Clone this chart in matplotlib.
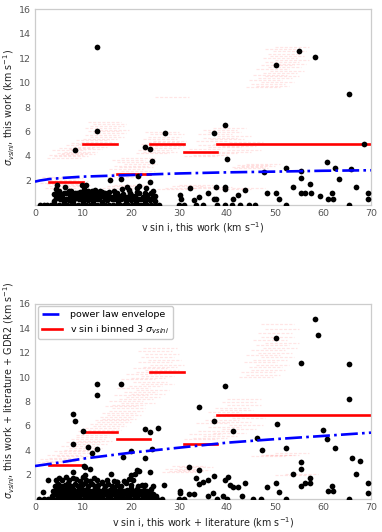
# === DECLARE IMPORTS ===

import matplotlib

matplotlib.use("Agg")
import matplotlib.pyplot as plt

# === DEFINE DATA ===

X_TICKS = [0, 10, 20, 30, 40, 50, 60, 70]
Y_TICKS = [2, 4, 6, 8, 10, 12, 14, 16]

# --- top panel: this work ---
TOP_VSINI = [
    # sigma = 0 row
    1.0, 1.8, 2.6, 3.4, 4.2, 5.0, 5.8, 6.6, 7.4, 8.2, 9.0, 9.8, 10.6, 11.4, 12.2, 13.0,
    13.8, 14.6, 15.4, 16.2, 17.0, 17.8, 18.6, 19.4, 20.2, 21.0, 21.8, 22.6, 23.4, 24.2,
    25.0, 25.8, 30.0, 31.0, 33.5, 35.0, 38.0, 39.5, 41.0, 42.8, 44.5, 45.8, 52.3, 65.4,
    # low rows
    4.0, 5.2, 6.0, 7.0, 8.0, 9.1, 10.0, 11.0, 12.0, 13.2, 14.0, 15.0, 16.0, 17.2, 18.0,
    19.0, 20.0, 21.0, 22.0, 23.0, 24.0, 25.0, 30.5, 33.1, 37.2, 37.8, 41.3, 61.0, 62.0,
    50.8, 69.4,
    4.4, 5.6, 6.5, 7.5, 8.5, 9.5, 10.5, 11.5, 12.6, 13.6, 14.5, 15.5, 16.5, 17.6, 18.5,
    19.5, 20.5, 21.5, 22.5, 23.5, 24.5,
    4.0, 4.6, 5.5, 6.4, 7.2, 8.0, 9.0, 9.8, 10.6, 11.5, 12.3, 13.2, 14.1, 15.0, 15.8,
    16.6, 17.5, 18.3, 19.2, 20.0, 20.8, 21.7, 22.5, 23.4, 24.2, 25.0, 30.2, 34.2, 36.1,
    42.2, 48.3, 50.2, 55.4, 56.3, 57.5, 59.4, 61.8, 69.4,
    4.8, 6.0, 7.0, 8.4, 9.4, 10.2, 11.0, 12.0, 13.0, 14.6, 15.5, 17.0, 19.8, 21.2, 23.0,
    4.5, 4.3, 6.3, 5.0, 7.6, 9.7, 10.2, 10.6, 11.8, 12.5, 14.0, 16.5, 18.2, 19.1, 19.6,
    21.2, 21.7, 23.2, 24.5, 8.8, 13.5,
    15.7, 17.9, 21.4, 23.9, 32.2, 37.8, 39.5, 39.6, 43.75, 53.8, 57.3, 66.9,
    # scattered upper points
    12.85, 8.3, 12.85, 22.9, 24.0, 24.4, 27.0, 37.2, 39.65, 40.1, 50.2, 55.1, 58.4,
    65.4, 68.5, 47.8, 52.3, 55.4, 55.4, 60.8, 62.5, 63.4, 65.9,
]
TOP_SIGMA = [
    0, 0, 0, 0, 0, 0, 0, 0, 0, 0, 0, 0, 0, 0, 0, 0,
    0, 0, 0, 0, 0, 0, 0, 0, 0, 0, 0, 0, 0, 0,
    0, 0, 0, 0, 0, 0, 0, 0, 0, 0, 0, 0, 0, 0,
    0.30, 0.45, 0.25, 0.40, 0.30, 0.45, 0.25, 0.40, 0.30, 0.45, 0.25, 0.35, 0.45, 0.30, 0.45,
    0.30, 0.40, 0.25, 0.45, 0.30, 0.40, 0.30, 0.44, 0.38, 0.44, 0.44, 0.44, 0.44, 0.44,
    0.44, 0.44,
    0.55, 0.60, 0.50, 0.60, 0.55, 0.60, 0.55, 0.60, 0.50, 0.60, 0.55, 0.60, 0.50, 0.60, 0.55,
    0.60, 0.55, 0.50, 0.60, 0.55, 0.60,
    0.90, 0.70, 0.80, 0.95, 0.70, 0.85, 0.70, 0.95, 0.75, 0.90, 0.70, 0.85, 0.70, 0.90, 0.65,
    0.80, 0.70, 0.90, 0.65, 0.80, 0.70, 0.95, 0.65, 0.80, 0.95, 0.70, 0.80, 0.60, 0.98,
    0.80, 0.98, 0.98, 0.98, 0.98, 0.98, 0.74, 0.98, 0.98,
    1.05, 1.00, 1.10, 1.00, 1.05, 1.00, 1.10, 1.00, 1.05, 1.00, 1.05, 1.00, 1.00, 1.05, 1.00,
    1.60, 1.25, 1.45, 1.10, 1.10, 1.60, 1.30, 1.65, 1.10, 1.20, 1.05, 1.15, 1.25, 1.42, 1.20,
    1.35, 1.50, 1.40, 1.10, 1.00, 1.10,
    2.00, 2.13, 2.38, 1.83, 1.40, 1.47, 1.47, 1.25, 1.20, 1.47, 1.67, 1.47,
    12.9, 4.5, 6.05, 4.75, 4.55, 3.55, 5.85, 5.85, 6.55, 3.77, 11.47, 12.6, 12.08,
    9.07, 4.97, 2.68, 2.98, 2.76, 2.16, 3.47, 2.98, 2.13, 2.90,
]

# binned 3 sigma (final) and power-law envelope
TOP_BIN_LO = [3, 10, 17, 24, 31, 38]
TOP_BIN_HI = [10, 17, 24, 31, 38, 70]
TOP_BIN_SIG = [1.9, 5.0, 2.5, 4.95, 4.3, 5.0]
TOP_ENV_V = [0, 1, 3, 6, 10, 20, 30, 40, 50, 60, 70]
TOP_ENV_SIG = [1.89, 1.98, 2.1, 2.2, 2.3, 2.43, 2.56, 2.65, 2.71, 2.78, 2.82]

# bootstrap realisations (bin start, 3 sigma), each 7 km/s wide
TOP_BOOT_X0 = [
    1.5, 3.0, 2.0, 4.0, 3.5, 1.0, 2.5, 4.5, 3.0, 2.0,
    2.5, 4.0, 3.0, 5.5, 4.5, 6.0, 3.5, 7.0, 5.0, 8.0, 6.5, 9.0, 7.5, 9.5, 8.5,
    10.0, 11.5, 10.5, 12.0, 11.0, 12.5, 10.5, 11.5, 12.0, 11.0,
    15.0, 17.0, 16.0, 18.0, 15.5, 17.5, 16.5, 18.5, 17.0, 16.0, 18.0,
    15.0, 16.5, 14.0,
    21.0, 22.5, 21.5, 23.0, 24.0, 22.0, 23.5, 24.5, 22.5, 23.5, 24.0, 23.0, 25.0,
    31.0, 33.0, 35.0, 38.0, 40.0, 32.0, 36.0, 39.0, 34.0, 37.0, 40.5, 33.5, 36.5, 35.0,
    38.0, 34.0, 36.0, 35.0, 37.0,
    41.0, 43.0, 42.0, 44.0, 41.5,
    25.5, 27.0, 28.5, 30.0, 32.0, 34.0, 38.0, 41.0,
    44.0, 46.0, 45.0, 47.0, 44.5, 46.5, 48.0, 45.5, 47.5, 49.0, 46.0, 48.5, 47.0, 49.5,
    48.0, 50.0, 47.5, 49.0, 48.5, 49.5, 48.0, 50.0,
]
TOP_BOOT_SIG = [
    2.30, 2.15, 2.05, 1.95, 1.85, 1.80, 1.70, 1.60, 1.50, 1.40,
    3.85, 3.95, 4.05, 4.15, 4.25, 4.35, 4.45, 4.55, 4.65, 4.75, 4.85, 4.95, 5.05, 5.15, 5.30,
    5.40, 5.55, 5.70, 5.85, 6.00, 6.15, 6.30, 6.45, 6.60, 6.80,
    2.30, 2.45, 2.60, 2.75, 2.90, 3.05, 3.20, 3.35, 3.50, 3.65, 3.80,
    1.50, 1.60, 1.40,
    4.20, 4.35, 4.50, 4.65, 4.80, 4.95, 5.10, 5.25, 5.40, 5.55, 5.75, 5.95, 8.80,
    4.00, 4.10, 4.20, 4.35, 4.50, 4.60, 4.70, 4.80, 4.90, 5.00, 5.10, 5.20, 5.35, 5.50,
    5.65, 5.80, 5.95, 6.10, 6.30,
    3.05, 3.15, 3.25, 3.35, 3.00,
    1.30, 1.40, 1.50, 1.60, 1.35, 1.45, 1.30, 1.40,
    9.60, 9.75, 9.90, 10.05, 10.20, 10.35, 10.50, 10.65, 10.80, 10.95, 11.10, 11.25, 11.40,
    11.55, 11.70, 11.85, 12.00, 12.15, 12.35, 12.55, 12.75, 12.90,
]

# --- bottom panel: this work + literature ---
BOT_VSINI = [
    # sigma = 0 row
    0.8, 1.8, 2.8, 3.8, 4.6, 5.4, 6.2, 7.0, 7.8, 8.6, 9.4, 10.2, 11.0, 11.8, 12.6, 13.4,
    14.2, 15.0, 15.8, 16.6, 17.4, 18.2, 19.0, 19.8, 20.6, 21.4, 22.2, 23.0, 23.8, 24.6,
    25.4, 26.5, 30.0, 31.0, 38.0, 40.0, 45.5, 47.0, 52.3, 65.4,
    # dense low rows
    3.5, 4.2, 4.9, 5.6, 6.3, 7.0, 7.7, 8.4, 9.1, 9.8, 10.5, 11.2, 11.9, 12.6, 13.3, 14.0,
    14.7, 15.4, 16.1, 16.8, 17.5, 18.2, 18.9, 19.6, 20.3, 21.0, 21.7, 22.4, 23.1, 23.8,
    24.5, 25.2,
    3.9, 4.6, 5.3, 6.0, 6.7, 7.4, 8.1, 8.8, 9.5, 10.2, 10.9, 11.6, 12.3, 13.0, 13.7, 14.4,
    15.1, 15.8, 16.5, 17.2, 17.9, 18.6, 19.3, 20.0, 20.7, 21.4, 22.1, 22.8, 23.5, 24.2,
    3.8, 4.5, 5.2, 5.9, 6.6, 7.3, 8.0, 8.7, 9.4, 10.1, 10.8, 11.5, 12.2, 12.9, 13.6, 14.3,
    15.0, 15.7, 16.4, 17.1, 17.8, 18.5, 19.2, 19.9, 20.6, 21.3, 22.0, 22.7, 23.4, 24.1,
    4.1, 4.8, 5.5, 6.2, 6.9, 7.6, 8.3, 9.0, 9.7, 10.4, 11.1, 11.8, 12.5, 13.2, 13.9, 14.6,
    15.3, 16.0, 17.0, 18.0, 19.0, 20.0, 21.5, 23.0, 24.5,
    4.3, 5.0, 5.7, 6.4, 7.1, 7.9, 8.6, 9.3, 10.0, 10.7, 11.4, 12.2, 13.0, 14.0, 15.0,
    16.5, 17.0, 18.6, 19.5, 20.5, 22.2, 2.8, 1.7, 4.5, 26.9,
    # moderate points
    7.85, 10.3, 10.4, 10.5, 11.5, 15.8, 17.0, 20.8, 21.2, 21.7, 19.9, 24.0,
    32.0, 34.2, 30.2, 30.2, 32.0, 33.1, 33.5, 34.2, 35.1, 36.1, 37.3, 36.0, 37.0,
    39.2, 39.6, 40.2, 40.6, 41.3, 42.2, 43.2, 43.75, 48.3, 50.2, 50.8, 53.8, 55.4,
    55.4, 55.4, 56.3, 57.3, 57.3, 61.0, 61.8, 62.0, 66.0, 66.9, 67.7, 69.4, 69.4,
    # upper points
    24.9, 7.85, 8.3, 8.0, 10.0, 12.85, 12.85, 11.0, 12.85, 11.9, 17.9, 18.4, 19.9,
    22.9, 24.0, 25.6, 24.4, 22.9, 34.2, 37.2, 39.6, 41.3, 46.2, 47.2, 50.5, 52.2,
    50.2, 55.4, 58.3, 59.0, 65.4, 65.4, 59.9, 60.8, 62.4,
]
BOT_SIGMA = [
    0, 0, 0, 0, 0, 0, 0, 0, 0, 0, 0, 0, 0, 0, 0, 0,
    0, 0, 0, 0, 0, 0, 0, 0, 0, 0, 0, 0, 0, 0,
    0, 0, 0, 0, 0, 0, 0, 0, 0, 0,
    0.30, 0.45, 0.25, 0.40, 0.30, 0.45, 0.25, 0.40, 0.30, 0.45, 0.25, 0.35, 0.45, 0.30, 0.40, 0.25,
    0.45, 0.30, 0.40, 0.25, 0.45, 0.30, 0.40, 0.25, 0.45, 0.30, 0.40, 0.25, 0.45, 0.30,
    0.40, 0.25,
    0.55, 0.60, 0.50, 0.60, 0.55, 0.50, 0.60, 0.55, 0.50, 0.60, 0.55, 0.50, 0.60, 0.55, 0.50, 0.60,
    0.55, 0.50, 0.60, 0.55, 0.50, 0.60, 0.55, 0.50, 0.60, 0.55, 0.50, 0.60, 0.55, 0.50,
    0.70, 0.85, 0.65, 0.80, 0.95, 0.70, 0.85, 0.65, 0.90, 0.75, 0.85, 0.65, 0.80, 0.95, 0.70, 0.85,
    0.65, 0.80, 0.90, 0.70, 0.85, 0.65, 0.80, 0.95, 0.70, 0.85, 0.65, 0.80, 0.70, 0.85,
    1.10, 1.25, 1.05, 1.20, 1.35, 1.10, 1.25, 1.05, 1.20, 1.35, 1.10, 1.25, 1.05, 1.20, 1.35, 1.10,
    1.25, 1.05, 1.20, 1.10, 1.30, 1.15, 1.05, 1.20, 1.10,
    1.55, 1.75, 1.60, 1.80, 1.55, 1.75, 1.65, 1.50, 1.80, 1.60, 1.50, 1.70, 1.55, 1.45, 1.60,
    1.50, 1.40, 1.50, 1.65, 1.55, 1.17, 1.60, 0.60, 1.17, 1.17,
    2.26, 2.75, 1.99, 2.60, 2.50, 2.04, 1.39, 2.04, 2.40, 2.30, 2.00, 2.26,
    2.64, 2.40, 0.70, 0.50, 0.45, 0.45, 1.70, 1.23, 1.40, 1.55, 1.90, 0.30, 0.50,
    0.27, 1.60, 1.80, 1.20, 1.00, 1.00, 0.27, 1.33, 1.04, 1.31, 0.63, 2.04, 3.08,
    2.45, 1.09, 1.36, 1.36, 1.77, 0.65, 1.09, 0.65, 3.35, 2.04, 3.13, 1.36, 0.49,
    14.9, 6.98, 6.38, 4.52, 5.61, 9.43, 8.53, 4.25, 4.14, 3.76, 9.45, 3.46, 3.95,
    5.78, 5.53, 5.80, 4.09, 3.40, 7.52, 6.43, 9.26, 5.61, 4.99, 4.03, 6.13, 4.22,
    13.19, 11.17, 14.71, 13.43, 11.06, 8.23, 5.69, 4.93, 4.22,
]

BOT_BIN_LO = [3, 10, 17, 24, 31, 38]
BOT_BIN_HI = [10, 17, 24, 31, 38, 70]
BOT_BIN_SIG = [2.8, 5.5, 4.95, 10.4, 4.5, 6.9]
BOT_ENV_V = [0, 5, 10, 20, 30, 40, 50, 60, 70]
BOT_ENV_SIG = [2.72, 3.0, 3.32, 3.81, 4.22, 4.63, 4.92, 5.18, 5.45]

BOT_BOOT_X0 = [
    0.5, 2.0, 1.0, 3.0, 4.5, 2.5, 5.0, 4.0, 6.0, 7.0, 5.5, 8.0, 6.5, 9.0, 7.5, 8.5,
    8.5, 10.0, 9.0, 11.0, 10.5, 12.0, 11.5, 13.0, 12.5, 14.0, 13.5, 15.0, 14.0, 15.5, 16.0,
    14.5, 16.0, 18.0, 15.5, 17.5, 19.0, 16.5, 20.0, 18.5, 21.0, 17.0, 19.5, 22.0, 20.5,
    18.0, 20.0, 22.0, 19.0, 21.0, 23.0, 20.5, 22.5, 24.0, 21.5, 23.5, 22.0, 23.0, 21.5, 22.5,
    26.5, 28.0, 29.5, 27.0, 30.0, 28.5,
    31.0, 33.0, 35.0, 32.0, 37.0, 34.0, 39.0, 36.0, 40.5, 33.5, 38.0, 35.5, 41.0, 37.0,
    39.5, 36.0, 38.5, 37.5, 40.0, 39.0, 40.0,
    42.5, 44.0, 43.0, 45.0, 44.5, 46.0, 43.5, 45.5, 47.0, 44.0, 46.5, 45.0, 47.5, 46.0,
    48.0, 45.5, 47.0, 46.5, 48.0, 47.0,
    45.0, 48.0, 50.0, 47.0, 50.0, 52.0,
]
BOT_BOOT_SIG = [
    3.05, 3.15, 3.30, 3.40, 3.55, 3.65, 3.80, 3.95, 4.05, 4.20, 4.35, 4.50, 4.65, 4.80, 4.95, 5.10,
    5.25, 5.40, 5.55, 5.70, 5.85, 6.00, 6.15, 6.30, 6.45, 6.60, 6.75, 6.90, 7.05, 7.25, 7.45,
    7.60, 7.75, 7.90, 8.05, 8.20, 8.35, 8.50, 8.65, 8.80, 8.95, 9.10, 9.25, 9.40, 9.60,
    9.80, 9.95, 10.10, 10.25, 10.40, 10.55, 10.70, 10.85, 11.00, 11.20, 11.40, 11.60, 11.85,
    12.10, 12.40,
    2.20, 2.30, 2.40, 2.50, 2.60, 2.70,
    4.90, 5.00, 5.15, 5.30, 5.45, 5.60, 5.75, 5.90, 6.05, 6.20, 6.35, 6.50, 6.65, 6.80,
    6.95, 7.10, 7.30, 7.50, 7.70, 7.95, 8.20,
    10.0, 10.2, 10.4, 10.6, 10.8, 11.0, 11.2, 11.4, 11.6, 11.8, 12.0, 12.2, 12.4, 12.6,
    12.8, 13.0, 13.3, 13.6, 13.9, 14.3,
    3.55, 3.65, 3.75, 3.60, 1.95, 2.05,
]

BOOT_WIDTH = 7.0

TOP_XLABEL = r"v sin i, this work (km s$^{-1}$)"
TOP_YLABEL = r"$\sigma_{vsini}$, this work (km s$^{-1}$)"
BOT_XLABEL = r"v sin i, this work + literature (km s$^{-1}$)"
BOT_YLABEL = r"$\sigma_{vsini}$, this work + literature + GDR2 (km s$^{-1}$)"
LEGEND_ENV = "power law envelope"
LEGEND_BIN = r"v sin i binned 3 $\sigma_{vsini}$"

TICK_SIZE = 6.8
LABEL_SIZE = 6.9


def draw_panel(ax, vsini, sigma, bin_lo, bin_hi, bin_sig, env_v, env_sig,
               boot_x0, boot_sig, xlabel, ylabel, ylabel_y):
    """Draw one vsini vs sigma panel."""
    # faint bootstrap realisations of the binned 3 sigma
    for x0, s in zip(boot_x0, boot_sig):
        ax.plot([x0, x0 + BOOT_WIDTH], [s, s], color="red", lw=0.9, alpha=0.10,
                ls=(0, (2.5, 1.2)), zorder=1)

    ax.scatter(vsini, sigma, s=17, color="black", zorder=3, linewidths=0)

    env, = ax.plot(env_v, env_sig, color="blue", ls="-.", lw=1.9, zorder=4)
    for lo, hi, s in zip(bin_lo, bin_hi, bin_sig):
        binned, = ax.plot([lo, hi], [s, s], color="red", lw=1.9, zorder=2)

    ax.set_xlim(0, 70)
    ax.set_ylim(0, 16)
    ax.set_xticks(X_TICKS)
    ax.set_yticks(Y_TICKS)
    ax.tick_params(length=0, labelsize=TICK_SIZE, labelcolor="#555555", pad=3)
    for spine in ax.spines.values():
        spine.set_color("#cccccc")
        spine.set_linewidth(0.9)
    ax.set_xlabel(xlabel, fontsize=LABEL_SIZE, color="#222222", labelpad=2)
    ax.set_ylabel(ylabel, fontsize=LABEL_SIZE, color="#222222")
    ax.yaxis.set_label_coords(-0.055, ylabel_y)
    return env, binned


def main() -> None:
    fig = plt.figure(figsize=(3.82, 5.32), dpi=100)
    ax_top = fig.add_axes([0.0916, 0.6152, 0.8796, 0.3673])
    ax_bot = fig.add_axes([0.0916, 0.0615, 0.8796, 0.3677])

    draw_panel(ax_top, TOP_VSINI, TOP_SIGMA, TOP_BIN_LO, TOP_BIN_HI, TOP_BIN_SIG,
               TOP_ENV_V, TOP_ENV_SIG, TOP_BOOT_X0, TOP_BOOT_SIG, TOP_XLABEL,
               TOP_YLABEL, 0.5)
    env, binned = draw_panel(ax_bot, BOT_VSINI, BOT_SIGMA, BOT_BIN_LO, BOT_BIN_HI,
                             BOT_BIN_SIG, BOT_ENV_V, BOT_ENV_SIG, BOT_BOOT_X0,
                             BOT_BOOT_SIG, BOT_XLABEL, BOT_YLABEL, 0.56)

    leg = ax_bot.legend([env, binned], [LEGEND_ENV, LEGEND_BIN], loc="upper left",
                        fontsize=TICK_SIZE, frameon=True, borderaxespad=0.3,
                        handlelength=2.2, borderpad=0.4, labelspacing=0.4)
    leg.get_frame().set_edgecolor("#cccccc")
    leg.get_frame().set_alpha(1.0)

    fig.savefig("out.png", dpi=100)
    plt.close(fig)


# === CONDITIONAL EXECUTION GUARD ===

if __name__ == "__main__":
    main()
